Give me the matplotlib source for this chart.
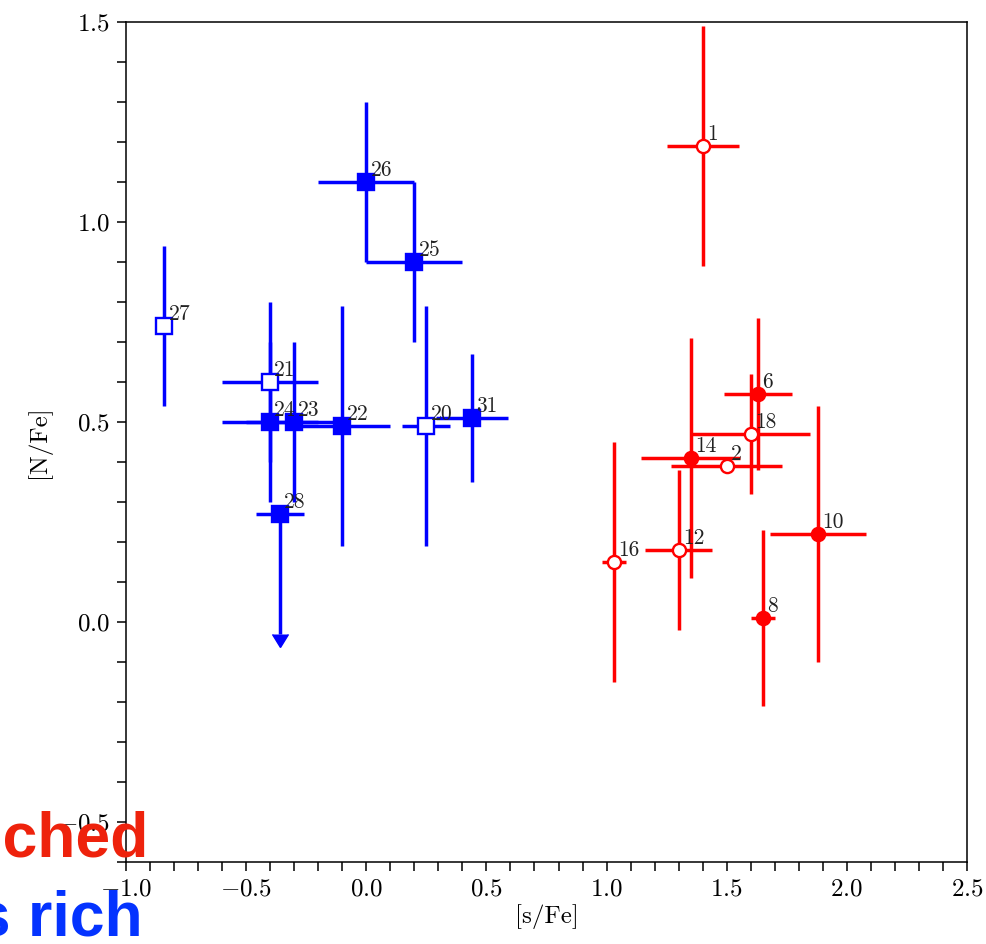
import matplotlib
matplotlib.use("Agg")
from matplotlib import pyplot as plt
from matplotlib.ticker import MultipleLocator

plt.rcParams["font.family"] = "serif"
plt.rcParams["font.serif"] = ["cmr10"]
plt.rcParams["mathtext.fontset"] = "cm"
plt.rcParams["axes.formatter.use_mathtext"] = True

# blue group (squares)
blue_id = ["27", "21", "24", "23", "22", "28", "26", "25", "20", "31"]
blue_x = [-0.84, -0.40, -0.40, -0.30, -0.10, -0.36, 0.00, 0.20, 0.25, 0.44]
blue_y = [0.74, 0.60, 0.50, 0.50, 0.49, 0.27, 1.10, 0.90, 0.49, 0.51]
blue_xerr = [0.025, 0.20, 0.20, 0.20, 0.20, 0.10, 0.20, 0.20, 0.10, 0.15]
blue_yerr = [0.20, 0.20, 0.20, 0.20, 0.30, 0.30, 0.20, 0.20, 0.30, 0.16]
blue_open = [True, True, False, False, False, False, False, False, True, False]
blue_uplim = [False, False, False, False, False, True, False, False, False, False]

# red group (circles)
red_id = ["1", "6", "18", "14", "2", "16", "12", "10", "8"]
red_x = [1.40, 1.63, 1.60, 1.35, 1.50, 1.03, 1.30, 1.88, 1.65]
red_y = [1.19, 0.57, 0.47, 0.41, 0.39, 0.15, 0.18, 0.22, 0.01]
red_xerr = [0.15, 0.14, 0.245, 0.205, 0.23, 0.05, 0.14, 0.20, 0.05]
red_yerr = [0.30, 0.19, 0.15, 0.30, 0.0, 0.30, 0.20, 0.32, 0.22]
red_open = [True, False, True, False, True, True, True, False, False]

fig = plt.figure(figsize=(9.87, 9.44), dpi=100)
ax = fig.add_axes([126 / 987, 1 - 862 / 944, 841 / 987, 840 / 944])

def draw_group(ids, xs, ys, xerr, yerr, opens, color, marker, ms, uplim=None):
    if uplim is None:
        uplim = [False] * len(xs)
    for i in range(len(xs)):
        ax.errorbar(xs[i], ys[i], xerr=xerr[i], fmt="none", ecolor=color,
                    elinewidth=2.5, capsize=0, zorder=2)
        if uplim[i]:
            eb = ax.errorbar(xs[i], ys[i], yerr=yerr[i], uplims=True, fmt="none",
                             ecolor=color, elinewidth=2.5, capsize=6, zorder=2)
            for cap in eb[1]:
                cap.set_markerfacecolor(color)
                cap.set_markeredgecolor(color)
        elif yerr[i] > 0:
            ax.errorbar(xs[i], ys[i], yerr=yerr[i], fmt="none", ecolor=color,
                        elinewidth=2.5, capsize=0, zorder=2)
    for i in range(len(xs)):
        face = "white" if opens[i] else color
        ax.plot(xs[i], ys[i], marker=marker, ms=ms, mfc=face, mec=color,
                mew=1.7, ls="none", zorder=3)
        ax.annotate(ids[i], (xs[i], ys[i]), xytext=(3, 4.5),
                    textcoords="offset points", ha="left", va="baseline",
                    fontsize=15.5, color="#222222", zorder=4)

draw_group(blue_id, blue_x, blue_y, blue_xerr, blue_yerr, blue_open,
           "blue", "s", 11, blue_uplim)
draw_group(red_id, red_x, red_y, red_xerr, red_yerr, red_open,
           "red", "o", 9.5)

ax.set_xlim(-1.0, 2.5)
ax.set_ylim(-0.6, 1.5)
ax.xaxis.set_major_locator(MultipleLocator(0.5))
ax.xaxis.set_minor_locator(MultipleLocator(0.1))
ax.yaxis.set_major_locator(MultipleLocator(0.5))
ax.yaxis.set_minor_locator(MultipleLocator(0.1))
ax.tick_params(which="both", direction="out", length=6.5, width=1.1,
               top=False, right=False, labelsize=18, pad=5)
for s in ax.spines.values():
    s.set_linewidth(1.1)
ax.set_xlabel("[s/Fe]", fontsize=18, labelpad=3)
ax.set_ylabel("[N/Fe]", fontsize=18, labelpad=5)

fig.text(148 / 987, 1 - 857 / 944, "s-process enriched", ha="right",
         va="baseline", fontsize=45, fontweight="bold",
         family="Liberation Sans", color="#EE220C")
fig.text(143 / 987, 1 - 935 / 944, "both N and s rich", ha="right",
         va="baseline", fontsize=45, fontweight="bold",
         family="Liberation Sans", color="#0433FF")

fig.savefig("out.png", dpi=100)
